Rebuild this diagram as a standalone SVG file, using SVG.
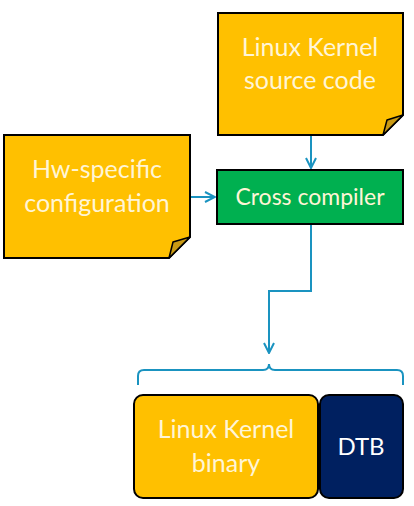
<svg xmlns="http://www.w3.org/2000/svg" width="414" height="506" viewBox="0 0 414 506">
<style>
.note{fill:#FFC000;stroke:#000;stroke-width:2;stroke-linejoin:miter}
.fold{fill:#C99A14;stroke:#000;stroke-width:1.5;stroke-linejoin:round}
.lbl{font-family:Lato,"Open Sans","Liberation Sans",sans-serif;font-size:25px;fill:#FFF5D6;text-anchor:middle}
.conn{fill:none;stroke:#1A93C0;stroke-width:2}
</style>
<defs>
<marker id="arr" viewBox="0 0 12 12" refX="11" refY="6" markerWidth="12" markerHeight="12" markerUnits="userSpaceOnUse" orient="auto">
<path d="M1,1 L11,6 L1,11" fill="none" stroke="#1A93C0" stroke-width="2"/>
</marker>
</defs>
<rect width="414" height="506" fill="#fff"/>
<g id="connectors">
<line class="conn" x1="311" y1="135" x2="311" y2="168" marker-end="url(#arr)"/>
<line class="conn" x1="190" y1="197" x2="215" y2="197" marker-end="url(#arr)"/>
<polyline class="conn" points="311,225 311,291 269,291 269,353" marker-end="url(#arr)"/>
<path class="conn" d="M138,385 V376 Q138,370 144,370 H263 Q269,370 269,364 Q269,370 275,370 H397 Q403,370 403,376 V385"/>
</g>
<g id="kernel-source">
<path class="note" d="M218,13 H403 V115 L383,135 H218 Z"/>
<path class="fold" d="M383,135 L387,120 L403,115 Z"/>
<text class="lbl" x="310" y="56">Linux Kernel</text>
<text class="lbl" x="310" y="89">source code</text>
</g>
<g id="hw-config">
<path class="note" d="M4,135 H190 V237 L169,258 H4 Z"/>
<path class="fold" d="M169,258 L173,242 L190,237 Z"/>
<text class="lbl" x="97" y="178">Hw-specific</text>
<text class="lbl" x="97" y="212">configuration</text>
</g>
<g id="cross-compiler">
<rect x="217" y="170" width="186" height="54" fill="#00B050" stroke="#000" stroke-width="2"/>
<text class="lbl" x="310" y="205" style="font-size:23px">Cross compiler</text>
</g>
<g id="kernel-binary">
<rect x="134" y="395" width="184" height="103" rx="9" fill="#FFC000" stroke="#000" stroke-width="2"/>
<text class="lbl" x="226" y="438">Linux Kernel</text>
<text class="lbl" x="226" y="472">binary</text>
</g>
<g id="dtb">
<rect x="320" y="395" width="83" height="103" rx="9" fill="#002060" stroke="#000" stroke-width="2"/>
<text class="lbl" x="361" y="455" style="fill:#fff;font-size:24px">DTB</text>
</g>
</svg>
